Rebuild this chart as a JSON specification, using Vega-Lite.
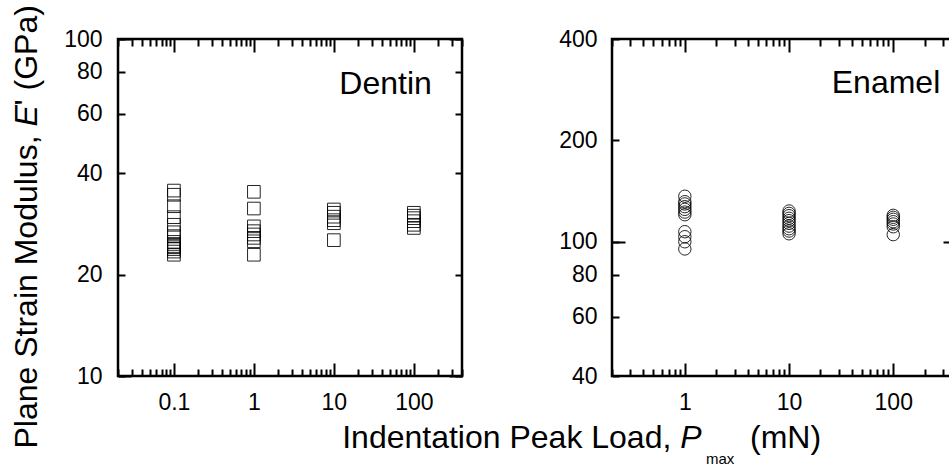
{
  "$schema": "https://vega.github.io/schema/vega-lite/v6.json",
  "padding": {"left": 9, "top": 3, "right": 0, "bottom": 0},
  "background": "white",
  "datasets": {
    "dentin": [
      {"load": 0.1, "E": 35.5}, {"load": 0.1, "E": 34.5}, {"load": 0.1, "E": 31.9}, {"load": 0.1, "E": 29.6},
      {"load": 0.1, "E": 28.1}, {"load": 0.1, "E": 26.7}, {"load": 0.1, "E": 26.0}, {"load": 0.1, "E": 25.0},
      {"load": 0.1, "E": 24.65}, {"load": 0.1, "E": 24.3}, {"load": 0.1, "E": 24.1}, {"load": 0.1, "E": 23.8},
      {"load": 0.1, "E": 23.4}, {"load": 0.1, "E": 22.9},
      {"load": 1, "E": 35.2}, {"load": 1, "E": 31.4}, {"load": 1, "E": 27.8}, {"load": 1, "E": 26.9},
      {"load": 1, "E": 26.3}, {"load": 1, "E": 25.7}, {"load": 1, "E": 25.1}, {"load": 1, "E": 22.9},
      {"load": 10, "E": 31.2}, {"load": 10, "E": 30.5}, {"load": 10, "E": 29.7}, {"load": 10, "E": 29.0},
      {"load": 10, "E": 28.4}, {"load": 10, "E": 25.3},
      {"load": 100, "E": 30.5}, {"load": 100, "E": 29.9}, {"load": 100, "E": 29.4}, {"load": 100, "E": 28.8},
      {"load": 100, "E": 28.1}, {"load": 100, "E": 27.5}
    ],
    "enamel": [
      {"load": 1, "E": 136.6}, {"load": 1, "E": 131.6}, {"load": 1, "E": 129.6}, {"load": 1, "E": 127.2},
      {"load": 1, "E": 124.9}, {"load": 1, "E": 122.6}, {"load": 1, "E": 120.4}, {"load": 1, "E": 107.2},
      {"load": 1, "E": 103.6}, {"load": 1, "E": 100.1}, {"load": 1, "E": 95.3},
      {"load": 10, "E": 123.5}, {"load": 10, "E": 121.5}, {"load": 10, "E": 119.6}, {"load": 10, "E": 117.5},
      {"load": 10, "E": 115.6}, {"load": 10, "E": 113.5}, {"load": 10, "E": 111.4}, {"load": 10, "E": 109.4},
      {"load": 10, "E": 107.7}, {"load": 10, "E": 105.7},
      {"load": 100, "E": 119.9}, {"load": 100, "E": 118.3}, {"load": 100, "E": 116.7}, {"load": 100, "E": 114.8},
      {"load": 100, "E": 113.0}, {"load": 100, "E": 110.9}, {"load": 100, "E": 105.1}
    ]
  },
  "hconcat": [
    {
      "width": 344,
      "height": 337,
      "data": {"name": "dentin"},
      "layer": [
        {
          "mark": {"type": "point", "shape": "square", "size": 160, "filled": false, "stroke": "black", "strokeWidth": 1, "opacity": 0.85},
          "encoding": {
            "x": {"field": "load", "type": "quantitative", "scale": {"type": "log", "domain": [0.02, 400], "nice": false},
              "axis": {"orient": "bottom", "values": [0.1, 1, 10, 100], "format": "~g", "tickSize": -13, "labelPadding": 28,
                "title": "Indentation Peak Load,", "titleX": 223.7, "titleY": 71, "titleAlign": "left", "titleBaseline": "alphabetic", "titleAngle": 0, "titleAnchor": null}},
            "y": {"field": "E", "type": "quantitative", "scale": {"type": "log", "domain": [10, 100], "nice": false},
              "axis": {"orient": "left", "values": [10, 20, 40, 60, 80, 100], "format": "~g", "tickSize": -7, "labelPadding": 23,
                "title": "Plane Strain Modulus,", "titleX": -81.3, "titleY": 409, "titleAngle": -90, "titleAlign": "left", "titleBaseline": "alphabetic", "titleAnchor": null}}
          }
        },
        {
          "mark": {"type": "point", "opacity": 0},
          "encoding": {
            "x": {"field": "load", "type": "quantitative", "scale": {"type": "log", "domain": [0.02, 400], "nice": false},
              "axis": {"orient": "bottom", "values": [0.02, 0.03, 0.04, 0.05, 0.06, 0.07, 0.08, 0.09, 0.2, 0.3, 0.4, 0.5, 0.6, 0.7, 0.8, 0.9, 2, 3, 4, 5, 6, 7, 8, 9, 20, 30, 40, 50, 60, 70, 80, 90, 200, 300, 400], "labels": false, "tickSize": -7,
                "title": "P", "titleFontStyle": "italic", "titleX": 561.7, "titleY": 71, "titleAlign": "left", "titleBaseline": "alphabetic", "titleAngle": 0, "titleAnchor": null}},
            "y": {"field": "E", "type": "quantitative", "scale": {"type": "log", "domain": [10, 100], "nice": false},
              "axis": {"orient": "right", "values": [10, 20, 40, 60, 80, 100], "labels": false, "tickSize": -7,
                "title": "' (GPa)", "titleX": -425.3, "titleY": 66, "titleAngle": -90, "titleAlign": "left", "titleBaseline": "alphabetic", "titleAnchor": null}}
          }
        },
        {
          "mark": {"type": "point", "opacity": 0},
          "encoding": {
            "x": {"field": "load", "type": "quantitative", "scale": {"type": "log", "domain": [0.02, 400], "nice": false},
              "axis": {"orient": "top", "values": [0.1, 1, 10, 100], "labels": false, "tickSize": -13, "title": null}},
            "y": {"field": "E", "type": "quantitative", "scale": {"type": "log", "domain": [10, 100], "nice": false},
              "axis": {"orient": "left", "values": [10, 100], "labels": false, "tickSize": -13,
                "title": "E", "titleFontStyle": "italic", "titleX": -81.3, "titleY": 87, "titleAngle": -90, "titleAlign": "left", "titleBaseline": "alphabetic", "titleAnchor": null}}
          }
        },
        {
          "mark": {"type": "point", "opacity": 0},
          "encoding": {
            "x": {"field": "load", "type": "quantitative", "scale": {"type": "log", "domain": [0.02, 400], "nice": false},
              "axis": {"orient": "top", "values": [0.02, 0.03, 0.04, 0.05, 0.06, 0.07, 0.08, 0.09, 0.2, 0.3, 0.4, 0.5, 0.6, 0.7, 0.8, 0.9, 2, 3, 4, 5, 6, 7, 8, 9, 20, 30, 40, 50, 60, 70, 80, 90, 200, 300, 400], "labels": false, "tickSize": -7, "title": null}},
            "y": {"field": "E", "type": "quantitative", "scale": {"type": "log", "domain": [10, 100], "nice": false},
              "axis": {"orient": "right", "values": [10, 100], "labels": false, "tickSize": -13, "title": null}}
          }
        },
        {
          "data": {"values": [{"label": "Dentin"}]},
          "mark": {"type": "text", "align": "right", "baseline": "alphabetic", "font": "Liberation Sans", "fontSize": 32, "color": "black"},
          "encoding": {
            "text": {"field": "label"},
            "x": {"datum": 168, "type": "quantitative", "scale": {"type": "log", "domain": [0.02, 400], "nice": false}, "axis": null},
            "y": {"datum": 68.7, "type": "quantitative", "scale": {"type": "log", "domain": [10, 100], "nice": false}, "axis": null}
          }
        }
      ],
      "resolve": {"axis": {"x": "independent", "y": "independent"}}
    },
    {
      "width": 344,
      "height": 337,
      "data": {"name": "enamel"},
      "layer": [
        {
          "mark": {"type": "point", "shape": "circle", "size": 154, "filled": false, "stroke": "black", "strokeWidth": 1, "opacity": 0.85},
          "encoding": {
            "x": {"field": "load", "type": "quantitative", "scale": {"type": "log", "domain": [0.2, 400], "nice": false},
              "axis": {"orient": "bottom", "values": [1, 10, 100], "format": "~g", "tickSize": -13, "labelPadding": 28,
                "title": "(mN)", "titleX": 137.5, "titleY": 71, "titleAlign": "left", "titleBaseline": "alphabetic", "titleAngle": 0, "titleAnchor": null}},
            "y": {"field": "E", "type": "quantitative", "scale": {"type": "log", "domain": [40, 400], "nice": false},
              "axis": {"orient": "left", "values": [40, 60, 80, 100, 200, 400], "format": "~g", "tickSize": -7, "labelPadding": 22, "title": null}}
          }
        },
        {
          "mark": {"type": "point", "opacity": 0},
          "encoding": {
            "x": {"field": "load", "type": "quantitative", "scale": {"type": "log", "domain": [0.2, 400], "nice": false},
              "axis": {"orient": "bottom", "values": [0.2, 0.3, 0.4, 0.5, 0.6, 0.7, 0.8, 0.9, 2, 3, 4, 5, 6, 7, 8, 9, 20, 30, 40, 50, 60, 70, 80, 90, 200, 300, 400], "labels": false, "tickSize": -7,
                "title": "max", "titleFontSize": 15, "titleX": 93.5, "titleY": 87, "titleAlign": "left", "titleBaseline": "alphabetic", "titleAngle": 0, "titleAnchor": null}},
            "y": {"field": "E", "type": "quantitative", "scale": {"type": "log", "domain": [40, 400], "nice": false},
              "axis": {"orient": "right", "values": [40, 60, 80, 100, 200, 400], "labels": false, "tickSize": -7, "title": null}}
          }
        },
        {
          "mark": {"type": "point", "opacity": 0},
          "encoding": {
            "x": {"field": "load", "type": "quantitative", "scale": {"type": "log", "domain": [0.2, 400], "nice": false},
              "axis": {"orient": "top", "values": [1, 10, 100], "labels": false, "tickSize": -13, "title": null}},
            "y": {"field": "E", "type": "quantitative", "scale": {"type": "log", "domain": [40, 400], "nice": false},
              "axis": {"orient": "left", "values": [100], "labels": false, "tickSize": -13, "title": null}}
          }
        },
        {
          "mark": {"type": "point", "opacity": 0},
          "encoding": {
            "x": {"field": "load", "type": "quantitative", "scale": {"type": "log", "domain": [0.2, 400], "nice": false},
              "axis": {"orient": "top", "values": [0.2, 0.3, 0.4, 0.5, 0.6, 0.7, 0.8, 0.9, 2, 3, 4, 5, 6, 7, 8, 9, 20, 30, 40, 50, 60, 70, 80, 90, 200, 300, 400], "labels": false, "tickSize": -7, "title": null}},
            "y": {"field": "E", "type": "quantitative", "scale": {"type": "log", "domain": [40, 400], "nice": false},
              "axis": {"orient": "right", "values": [100], "labels": false, "tickSize": -13, "title": null}}
          }
        },
        {
          "data": {"values": [{"label": "Enamel"}]},
          "mark": {"type": "text", "align": "right", "baseline": "alphabetic", "font": "Liberation Sans", "fontSize": 32, "color": "black"},
          "encoding": {
            "text": {"field": "label"},
            "x": {"datum": 282.6, "type": "quantitative", "scale": {"type": "log", "domain": [0.2, 400], "nice": false}, "axis": null},
            "y": {"datum": 275.7, "type": "quantitative", "scale": {"type": "log", "domain": [40, 400], "nice": false}, "axis": null}
          }
        }
      ],
      "resolve": {"axis": {"x": "independent", "y": "independent"}}
    }
  ],
  "spacing": 150,
  "bounds": "flush",
  "config": {
    "font": "Liberation Sans",
    "view": {"stroke": "black", "strokeWidth": 2.5},
    "axis": {
      "domain": false, "grid": false,
      "tickColor": "black", "tickWidth": 2,
      "labelColor": "black", "labelFont": "Liberation Sans", "labelFontSize": 23,
      "labelFlush": false, "labelOverlap": false,
      "titleColor": "black", "titleFont": "Liberation Sans", "titleFontSize": 32, "titleFontWeight": "normal"
    }
  }
}
